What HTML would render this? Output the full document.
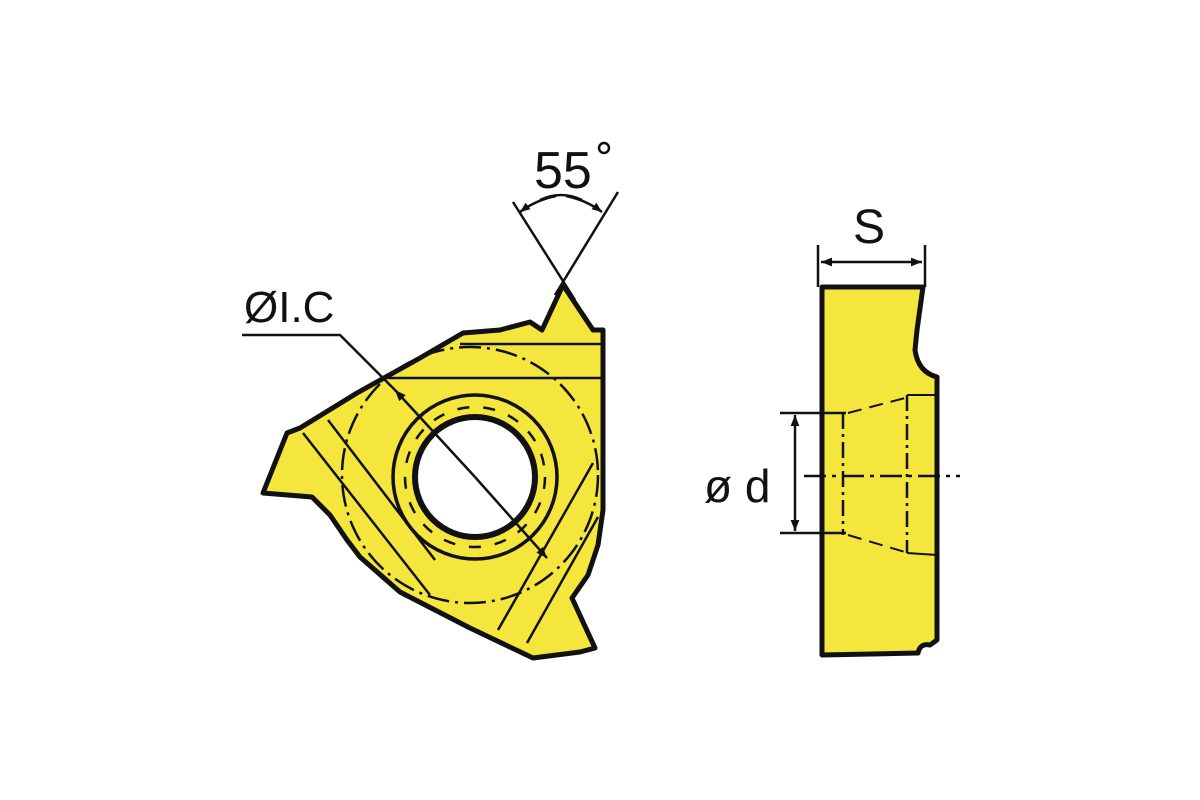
<!DOCTYPE html>
<html><head><meta charset="utf-8"><style>html,body{margin:0;padding:0;background:#fff;width:1200px;height:800px;overflow:hidden}</style></head>
<body>
<svg width="1200" height="800" viewBox="0 0 1200 800" xmlns="http://www.w3.org/2000/svg">
<defs>
<marker id="ar" viewBox="0 0 10 10" refX="10" refY="5" markerWidth="18" markerHeight="10" markerUnits="userSpaceOnUse" orient="auto"><path d="M0,1 L10,5 L0,9 Z" fill="#111"/></marker>
<marker id="ar2" viewBox="0 0 10 10" refX="10" refY="5" markerWidth="24" markerHeight="11" markerUnits="userSpaceOnUse" orient="auto"><path d="M0,1 L10,5 L0,9 Z" fill="#111"/></marker>
</defs>
<polygon points="563,285 593,330 603,330 603,510 598,545 588,575 572,598 595,648 580,652 533,658 470,628 400,592 360,557 347,540 330,515 312,497 263,493 287,433 300,428 357,393 420,358 463,333 500,330 530,322 542,330" fill="#f4e63c" stroke="#111" stroke-width="5" stroke-linejoin="round"/>
<line x1="460" y1="344" x2="602" y2="344" stroke="#111" stroke-width="2.5"/>
<line x1="388" y1="378" x2="602" y2="378" stroke="#111" stroke-width="2.5"/>
<line x1="303" y1="433" x2="430" y2="595" stroke="#111" stroke-width="2.5"/>
<line x1="328" y1="420" x2="435" y2="560" stroke="#111" stroke-width="2.5"/>
<line x1="498" y1="630" x2="593" y2="463" stroke="#111" stroke-width="2.5"/>
<line x1="527" y1="643" x2="598" y2="517" stroke="#111" stroke-width="2.5"/>
<circle cx="470" cy="475" r="128" fill="none" stroke="#111" stroke-width="2.5" stroke-dasharray="22,6,3,6"/>
<circle cx="475" cy="477" r="82" fill="none" stroke="#111" stroke-width="3.5"/>
<circle cx="475" cy="477" r="60" fill="#fff" stroke="#111" stroke-width="6"/>
<circle cx="475" cy="477" r="70" fill="none" stroke="#111" stroke-width="2.5" stroke-dasharray="12,14"/>
<polyline points="242,335 340,335 395,390" fill="none" stroke="#111" stroke-width="2.5"/>
<line x1="475" y1="477" x2="395" y2="390" stroke="#111" stroke-width="2.5" marker-end="url(#ar2)"/>
<line x1="475" y1="477" x2="547" y2="558" stroke="#111" stroke-width="2.5" marker-end="url(#ar2)"/>
<text x="244" y="322" font-family="Liberation Sans, sans-serif" font-size="44" fill="#111">ØI.C</text>
<line x1="513" y1="202" x2="575" y2="300" stroke="#111" stroke-width="2.5"/>
<line x1="618" y1="192" x2="555" y2="295" stroke="#111" stroke-width="2.5"/>
<path d="M540,200 Q561,190 582,200" fill="none" stroke="#111" stroke-width="2.5"/>
<path d="M556,196 Q536,200 520,212" fill="none" stroke="#111" stroke-width="2.5" marker-end="url(#ar)"/>
<path d="M566,196 Q586,200 602,212" fill="none" stroke="#111" stroke-width="2.5" marker-end="url(#ar)"/>
<text x="534" y="188" font-family="Liberation Sans, sans-serif" font-size="52" fill="#111">55</text>
<circle cx="604" cy="148" r="5" fill="none" stroke="#111" stroke-width="2.5"/>
<path d="M822,287 L923,287 L917,330 L915,350 Q918,372 937,377 L937,640 L930,645 Q920,643 918,653 L822,655 Z" fill="#f4e63c" stroke="#111" stroke-width="5" stroke-linejoin="round"/>
<line x1="818" y1="245" x2="818" y2="287" stroke="#111" stroke-width="2.5"/>
<line x1="925" y1="245" x2="925" y2="287" stroke="#111" stroke-width="2.5"/>
<line x1="870" y1="262" x2="821" y2="262" stroke="#111" stroke-width="2.5" marker-end="url(#ar2)"/>
<line x1="870" y1="262" x2="922" y2="262" stroke="#111" stroke-width="2.5" marker-end="url(#ar2)"/>
<text x="853" y="243" font-family="Liberation Sans, sans-serif" font-size="48" fill="#111">S</text>
<line x1="780" y1="413" x2="846" y2="413" stroke="#111" stroke-width="2.5"/>
<line x1="780" y1="533" x2="846" y2="533" stroke="#111" stroke-width="2.5"/>
<line x1="795" y1="473" x2="795" y2="415" stroke="#111" stroke-width="2.5" marker-end="url(#ar2)"/>
<line x1="795" y1="473" x2="795" y2="531" stroke="#111" stroke-width="2.5" marker-end="url(#ar2)"/>
<text x="704" y="502" font-family="Liberation Sans, sans-serif" font-size="46" fill="#111">ø d</text>
<line x1="804" y1="476" x2="960" y2="476" stroke="#111" stroke-width="2.5" stroke-dasharray="22,6,4,6"/>
<line x1="843" y1="413" x2="843" y2="535" stroke="#111" stroke-width="2.5" stroke-dasharray="16,5,3,5"/>
<line x1="907" y1="395" x2="907" y2="553" stroke="#111" stroke-width="2.5" stroke-dasharray="16,5,3,5"/>
<line x1="848" y1="413" x2="905" y2="398" stroke="#111" stroke-width="2" stroke-dasharray="14,8"/>
<line x1="848" y1="535" x2="905" y2="552" stroke="#111" stroke-width="2" stroke-dasharray="14,8"/>
<line x1="907" y1="395" x2="937" y2="395" stroke="#111" stroke-width="2"/>
<line x1="907" y1="553" x2="937" y2="555" stroke="#111" stroke-width="2"/>
</svg>
</body></html>
